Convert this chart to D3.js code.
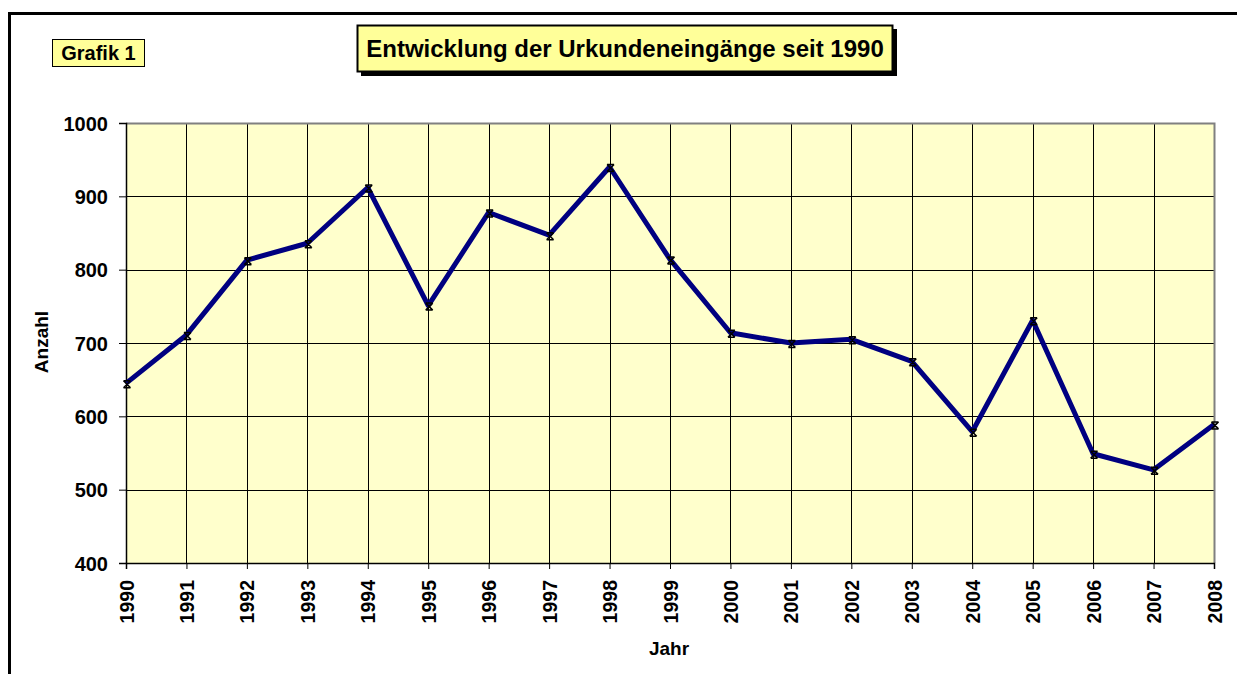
<!DOCTYPE html>
<html>
<head>
<meta charset="utf-8">
<script src="https://cdn.jsdelivr.net/npm/d3@7"></script>
<style>
  body { margin: 0; background: #fff; }
  svg { display: block; font-family: "Liberation Sans", Arial, sans-serif; }
</style>
</head>
<body>
<div id="chart"></div>
<script>
// data
const years = ['1990','1991','1992','1993','1994','1995','1996','1997','1998','1999',
               '2000','2001','2002','2003','2004','2005','2006','2007','2008'];
const counts = [645, 711, 813, 836, 912, 751, 878, 847, 940, 814,
                714, 700, 705, 675, 579, 731, 549, 527, 589];
const yTicks = [400, 500, 600, 700, 800, 900, 1000];

const width = 1237, height = 674;
const margin = { left: 126, right: 23, top: 123, bottom: 111 };
const adjWidth = width - margin.left - margin.right;
const adjHeight = height - margin.top - margin.bottom;

const svg = d3.select('#chart').append('svg')
  .attr('width', width)
  .attr('height', height);

//Outer frame, right and bottom edges run off the picture
svg.append('rect')
  .attr('x', 9.5).attr('y', 13.5)
  .attr('width', width + 20).attr('height', height + 20)
  .attr('fill', '#fff')
  .attr('stroke', '#000')
  .attr('stroke-width', 3);

//"Grafik 1" label
svg.append('rect')
  .attr('x', 52.5).attr('y', 39.5)
  .attr('width', 92).attr('height', 27)
  .attr('fill', '#ffff99')
  .attr('stroke', '#000');
svg.append('text')
  .attr('x', 98.5).attr('y', 60)
  .attr('text-anchor', 'middle')
  .style('font-weight', 'bold')
  .style('font-size', '20px')
  .text('Grafik 1');

//Title box with drop shadow
svg.append('rect')
  .attr('x', 361).attr('y', 29)
  .attr('width', 536).attr('height', 47)
  .attr('fill', '#000');
svg.append('rect')
  .attr('x', 357.5).attr('y', 25.5)
  .attr('width', 535).attr('height', 46)
  .attr('fill', '#ffff99')
  .attr('stroke', '#000')
  .attr('stroke-width', 2);
svg.append('text')
  .attr('x', 625).attr('y', 57)
  .attr('text-anchor', 'middle')
  .style('font-weight', 'bold')
  .style('font-size', '24px')
  .text('Entwicklung der Urkundeneingänge seit 1990');

const x = d3.scalePoint().domain(years).range([0, adjWidth]);
const y = d3.scaleLinear().domain([400, 1000]).range([adjHeight, 0]);

const g = svg.append('g')
  .attr('transform', 'translate(' + margin.left + ',' + margin.top + ')');

g.append('rect')
  .attr('width', adjWidth)
  .attr('height', adjHeight)
  .attr('fill', '#ffffcc');

//Grid lines
g.selectAll('.hgrid')
  .data(yTicks)
  .enter().append('line')
  .attr('class', 'hgrid')
  .attr('x1', 0).attr('x2', adjWidth)
  .attr('y1', d => Math.round(y(d)) + 0.5)
  .attr('y2', d => Math.round(y(d)) + 0.5)
  .attr('stroke', '#000');

g.selectAll('.vgrid')
  .data(years)
  .enter().append('line')
  .attr('class', 'vgrid')
  .attr('x1', d => Math.round(x(d)) + 0.5)
  .attr('x2', d => Math.round(x(d)) + 0.5)
  .attr('y1', 0).attr('y2', adjHeight)
  .attr('stroke', '#000');

//Gray top and right border of the plot area
g.append('path')
  .attr('d', 'M0,0.5H' + (adjWidth + 0.5) + 'V' + adjHeight)
  .attr('fill', 'none')
  .attr('stroke', '#808080')
  .attr('stroke-width', 2);

//Axes
const yAxis = g.append('g')
  .call(d3.axisLeft(y).tickValues(yTicks).tickFormat(d3.format('d'))
    .tickSize(7).tickPadding(11));
const xAxis = g.append('g')
  .attr('transform', 'translate(0,' + adjHeight + ')')
  .call(d3.axisBottom(x).tickSize(6).tickPadding(0));

[xAxis, yAxis].forEach(a => {
  a.select('.domain').attr('stroke', '#000').attr('stroke-width', 1.5);
  a.selectAll('.tick line').attr('stroke', '#000');
  a.selectAll('.tick text')
    .attr('fill', '#000')
    .style('font-family', '"Liberation Sans", Arial, sans-serif')
    .style('font-weight', 'bold')
    .style('font-size', '20px');
});
yAxis.selectAll('.tick text').attr('dy', '0.36em');

xAxis.selectAll('.tick text')
  .style('font-size', '19.5px')
  .attr('transform', 'rotate(-90)')
  .attr('text-anchor', 'end')
  .attr('x', -17)
  .attr('y', 0)
  .attr('dy', '0.36em');

//Axis titles
svg.append('text')
  .attr('transform', 'translate(48,342) rotate(-90)')
  .attr('text-anchor', 'middle')
  .style('font-weight', 'bold')
  .style('font-size', '19px')
  .text('Anzahl');

svg.append('text')
  .attr('x', 669).attr('y', 655)
  .attr('text-anchor', 'middle')
  .style('font-weight', 'bold')
  .style('font-size', '19px')
  .text('Jahr');

//Data line
const line = d3.line()
  .x((d, i) => x(years[i]))
  .y(d => y(d));

g.append('path')
  .datum(counts)
  .attr('fill', 'none')
  .attr('stroke', '#000080')
  .attr('stroke-width', 5)
  .attr('stroke-linejoin', 'round')
  .attr('d', line);

//Star markers
const s = 3.5;
g.selectAll('.marker')
  .data(counts)
  .enter().append('path')
  .attr('class', 'marker')
  .attr('transform', (d, i) => 'translate(' + (x(years[i]) + 1) + ',' + (y(d) + 1) + ')')
  .attr('d', 'M' + -s + ',' + -s + 'L' + s + ',' + s +
             'M' + -s + ',' + s + 'L' + s + ',' + -s +
             'M' + -s + ',' + -s + 'H' + s +
             'M' + -s + ',' + s + 'H' + s)
  .attr('stroke', '#000')
  .attr('stroke-width', 1.5)
  .attr('fill', 'none');
</script>
</body>
</html>
